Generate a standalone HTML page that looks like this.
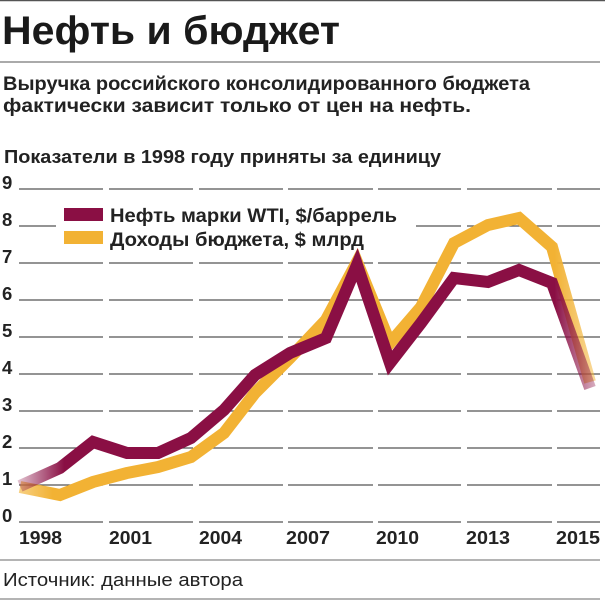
<!DOCTYPE html>
<html><head><meta charset="utf-8"><style>
html,body{margin:0;padding:0;background:#fff;}
body{width:605px;height:601px;overflow:hidden;font-family:"Liberation Sans","DejaVu Sans",sans-serif;}
</style></head><body>
<svg width="605" height="601" viewBox="0 0 605 601" xmlns="http://www.w3.org/2000/svg" font-family="Liberation Sans, DejaVu Sans, sans-serif">
<defs>
<linearGradient id="go" gradientUnits="userSpaceOnUse" x1="18" y1="0" x2="595" y2="0">
<stop offset="0" stop-color="#8a0f44" stop-opacity="0.25"/>
<stop offset="0.08" stop-color="#8a0f44" stop-opacity="1"/>
<stop offset="0.93" stop-color="#8a0f44" stop-opacity="1"/>
<stop offset="1" stop-color="#8a0f44" stop-opacity="0.35"/>
</linearGradient>
<linearGradient id="gb" gradientUnits="userSpaceOnUse" x1="18" y1="0" x2="595" y2="0">
<stop offset="0" stop-color="#f2b234" stop-opacity="0.6"/>
<stop offset="0.06" stop-color="#f2b234" stop-opacity="1"/>
<stop offset="0.93" stop-color="#f2b234" stop-opacity="1"/>
<stop offset="1" stop-color="#f2b234" stop-opacity="0.5"/>
</linearGradient>
</defs>
<line x1="0" y1="0.5" x2="605" y2="0.5" stroke="#555" stroke-width="1.5"/>
<text x="2" y="44" font-size="40" font-weight="bold" fill="#1a1a1a" textLength="338" lengthAdjust="spacingAndGlyphs">Нефть и бюджет</text>
<line x1="0" y1="62" x2="600" y2="62" stroke="#777" stroke-width="1.2"/>
<text x="3" y="90" font-size="19" font-weight="bold" fill="#222" textLength="527" lengthAdjust="spacingAndGlyphs">Выручка российского консолидированного бюджета</text>
<text x="3" y="112" font-size="19" font-weight="bold" fill="#222" textLength="468" lengthAdjust="spacingAndGlyphs">фактически зависит только от цен на нефть.</text>
<text x="4" y="163" font-size="18.5" font-weight="bold" fill="#222" textLength="437" lengthAdjust="spacingAndGlyphs">Показатели в 1998 году приняты за единицу</text>
<g stroke="#555" stroke-width="1.3">
<g id="row">
<line x1="19" x2="103" y1="0" y2="0"/><line x1="109" x2="193" y1="0" y2="0"/><line x1="199" x2="283" y1="0" y2="0"/><line x1="288" x2="373" y1="0" y2="0"/><line x1="378" x2="461" y1="0" y2="0"/><line x1="467" x2="552" y1="0" y2="0"/><line x1="557" x2="600" y1="0" y2="0"/>
</g>
<use href="#row" y="189"/><use href="#row" y="226"/><use href="#row" y="263"/><use href="#row" y="300"/><use href="#row" y="337"/><use href="#row" y="374"/><use href="#row" y="411"/><use href="#row" y="448"/><use href="#row" y="485"/><use href="#row" y="522"/>
</g>
<rect x="56" y="200" width="360" height="50" fill="#fff"/>
<g font-size="18.5" font-weight="bold" fill="#222">
<text x="2" y="189">9</text><text x="2" y="226">8</text><text x="2" y="263">7</text><text x="2" y="300">6</text><text x="2" y="337">5</text><text x="2" y="374">4</text><text x="2" y="411">3</text><text x="2" y="448">2</text><text x="2" y="485">1</text><text x="2" y="522">0</text>
<text x="19" y="544" textLength="43" lengthAdjust="spacingAndGlyphs">1998</text><text x="109" y="544" textLength="43" lengthAdjust="spacingAndGlyphs">2001</text><text x="199" y="544" textLength="43" lengthAdjust="spacingAndGlyphs">2004</text><text x="286" y="544" textLength="44" lengthAdjust="spacingAndGlyphs">2007</text><text x="376" y="544" textLength="43" lengthAdjust="spacingAndGlyphs">2010</text><text x="466" y="544" textLength="44" lengthAdjust="spacingAndGlyphs">2013</text><text x="556" y="544" textLength="44" lengthAdjust="spacingAndGlyphs">2015</text>
</g>
<polyline fill="none" stroke="url(#gb)" stroke-width="12" stroke-linejoin="miter" points="20,487 60,495 93,482 127,473 158,467 191,457 224,433 255,393 290,358 326,320 357,262 390,343 421,307 454,243 488,225 519,218 552,247 590,382"/>
<polyline fill="none" stroke="url(#go)" stroke-width="12" stroke-linejoin="miter" points="20,486 60,468 93,442 127,453 158,453 191,438 224,410 255,375 290,353 326,338 357,265 390,363 421,323 454,278 488,282 519,270 552,283 590,388"/>
<rect x="64" y="208" width="39" height="13" fill="#8a0f44"/>
<rect x="64" y="231" width="39" height="13" fill="#f2b234"/>
<text x="110" y="222" font-size="19" font-weight="bold" fill="#222" textLength="287" lengthAdjust="spacingAndGlyphs">Нефть марки WTI, $/баррель</text>
<text x="110" y="246" font-size="19" font-weight="bold" fill="#222" textLength="254" lengthAdjust="spacingAndGlyphs">Доходы бюджета, $ млрд</text>
<line x1="0" y1="560" x2="600" y2="560" stroke="#888" stroke-width="1.2"/>
<text x="3" y="586" font-size="18.5" fill="#222" textLength="240" lengthAdjust="spacingAndGlyphs">Источник: данные автора</text>
<line x1="0" y1="599" x2="600" y2="599" stroke="#888" stroke-width="1.2"/>
</svg>
</body></html>
